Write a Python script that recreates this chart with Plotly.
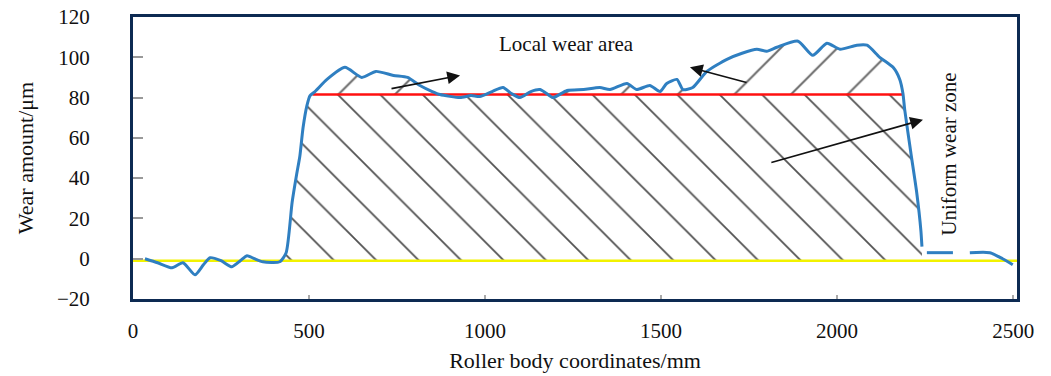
import numpy as np
import plotly.graph_objects as go

# ---- data ----
curve_x = [34, 70, 111, 142, 176, 200, 219, 250, 281, 305, 324, 345, 369, 417, 435, 452, 465,
           474, 483, 494, 503, 517, 551, 602, 650, 690, 740, 780, 815, 850, 872, 929, 960,
           985, 1020, 1051, 1075, 1099, 1130, 1156, 1175, 1193, 1233, 1280, 1326, 1355, 1403,
           1431, 1468, 1497, 1516, 1545, 1562, 1590, 1630, 1687, 1730, 1772, 1800, 1829, 1889,
           1931, 1971, 2008, 2056, 2085, 2121, 2159, 2178, 2187, 2192, 2210, 2226, 2238, 2241,
           2248, 2255, 2329, 2353, 2377, 2434, 2470, 2499]
curve_y = [0, -2, -4.5, -2, -8, -3, 0.5, -1, -4, -1, 1.5, 0, -1.5, -1.5, 3, 28, 42,
           51, 65, 76, 81, 83, 89, 95, 90, 93, 91, 90, 86, 83, 81.5, 80, 81,
           80.5, 83, 85, 82, 80, 83, 84, 82, 80, 83.5, 84, 85, 84, 87,
           84, 86, 83, 87, 89, 84, 85, 93, 99, 102, 104, 103, 105, 108,
           101, 107, 104, 106, 106, 100, 95, 89, 82, 74, 52, 33, 14, 6,
           None, 3, 3, None, 3, 3, 0, -3]

uniform_level = 81.5      # red line (uniform wear level)
baseline_level = -1       # yellow line
uniform_start, uniform_end = 510, 2188
zone_start, zone_end = 417, 2241

x_ticks = [0, 500, 1000, 1500, 2000, 2500]
y_ticks = [-20, 0, 20, 40, 60, 80, 100, 120]

FONT = "Liberation Serif"

cx = np.array(curve_x, dtype=float)
cy = np.array([np.nan if v is None else v for v in curve_y], dtype=float)

fig = go.Figure()

# uniform wear zone (hatched "\")
m = (cx >= zone_start) & (cx <= zone_end) & ~np.isnan(cy)
lx = cx[m]
ly = np.minimum(cy[m], uniform_level)
poly_x = list(lx) + [lx[-1], lx[0], lx[0]]
poly_y = list(ly) + [baseline_level, baseline_level, ly[0]]
fig.add_trace(go.Scatter(
    x=poly_x, y=poly_y, mode="lines", line=dict(width=0), fill="toself",
    fillcolor="rgba(0,0,0,0)",
    fillpattern=dict(shape="\\", size=30, solidity=0.06, fgcolor="rgba(50,50,50,0.85)",
                     bgcolor="rgba(0,0,0,0)", fillmode="replace"),
    hoverinfo="skip", showlegend=False))

# local wear area (hatched "/")
m2 = (cx >= uniform_start) & (cx <= uniform_end) & ~np.isnan(cy)
ux = cx[m2]
uy = np.maximum(cy[m2], uniform_level)
poly2_x = list(ux) + [ux[-1], ux[0]]
poly2_y = list(uy) + [uniform_level, uniform_level]
fig.add_trace(go.Scatter(
    x=poly2_x, y=poly2_y, mode="lines", line=dict(width=0), fill="toself",
    fillcolor="rgba(0,0,0,0)",
    fillpattern=dict(shape="/", size=40, solidity=0.05, fgcolor="rgba(80,80,80,0.85)",
                     bgcolor="rgba(0,0,0,0)", fillmode="replace"),
    hoverinfo="skip", showlegend=False))

# yellow baseline
fig.add_trace(go.Scatter(x=[0, 2511], y=[baseline_level, baseline_level], mode="lines",
                         line=dict(color="#f2f200", width=2.5), hoverinfo="skip", showlegend=False))
# red uniform line
fig.add_trace(go.Scatter(x=[uniform_start, uniform_end], y=[uniform_level, uniform_level], mode="lines",
                         line=dict(color="#ff1010", width=2.5), hoverinfo="skip", showlegend=False))
# wear curve
fig.add_trace(go.Scatter(x=curve_x, y=curve_y, mode="lines", connectgaps=False,
                         line=dict(color="#2f7fc1", width=3, shape="spline", smoothing=0.6),
                         hoverinfo="skip", showlegend=False))

arrow = dict(showarrow=True, text="", xref="x", yref="y", axref="x", ayref="y",
             arrowhead=2, arrowsize=1.6, arrowwidth=1.6, arrowcolor="#111")
fig.add_annotation(x=929, y=91, ax=730, ay=84.3, **arrow)
fig.add_annotation(x=1582, y=95, ax=1747, ay=87.3, **arrow)
fig.add_annotation(x=2244, y=69, ax=1809, ay=47.6, **arrow)

fig.add_annotation(x=1230, y=106.5, text="Local wear area", showarrow=False,
                   font=dict(family=FONT, size=21, color="#111"))
fig.add_annotation(x=2317, y=52, text="Uniform wear zone", showarrow=False, textangle=-90,
                   font=dict(family=FONT, size=21, color="#111"))

fig.update_layout(
    width=1051, height=376,
    margin=dict(l=133, r=34, t=17, b=77, autoexpand=False),
    paper_bgcolor="white", plot_bgcolor="white",
    font=dict(family=FONT, size=21, color="#111"),
)
fig.update_xaxes(range=[0, 2511], tickvals=x_ticks, ticktext=[str(v) for v in x_ticks],
                 showgrid=False, zeroline=False, showline=True, mirror=True, automargin=False,
                 linecolor="#0d2a52", linewidth=3, ticks="inside", ticklen=4,
                 tickcolor="#aaaaaa", tickwidth=1.5, ticklabelstandoff=11,
                 ticklabeloverflow="allow",
                 title=dict(text="Roller body coordinates/mm", font=dict(size=22), standoff=11))
fig.update_yaxes(range=[-20, 120], tickvals=y_ticks,
                 ticktext=["\u221220" if v < 0 else str(v) for v in y_ticks],
                 showgrid=False, zeroline=False, showline=True, mirror=True, automargin=False,
                 linecolor="#0d2a52", linewidth=3, ticks="inside", ticklen=10,
                 tickcolor="#999999", tickwidth=1.5, ticklabelstandoff=36,
                 ticklabeloverflow="allow",
                 title=dict(text="Wear amount/\u03bcm", font=dict(size=22), standoff=18))

# remove the default 8px page margin so the figure fills the window exactly
fig.write_html("out.html", config={"displayModeBar": False},
               post_script="document.body.style.margin='0px';")
